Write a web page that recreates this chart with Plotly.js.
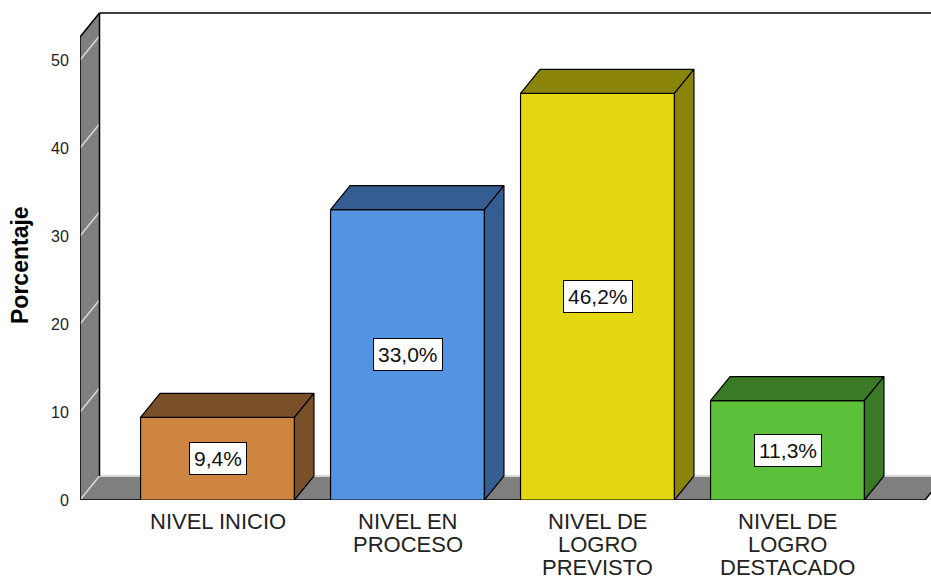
<!DOCTYPE html>
<html>
<head>
<meta charset="utf-8">
<script src="https://cdn.plot.ly/plotly-3.0.1.min.js"></script>
<style>html,body{margin:0;padding:0;background:#fff;}#chart{width:931px;height:580px;}</style>
</head>
<body>
<div id="chart"></div>
<script>
// ---- data ----
const categories = ['NIVEL INICIO', 'NIVEL EN<br>PROCESO', 'NIVEL DE<br>LOGRO<br>PREVISTO', 'NIVEL DE<br>LOGRO<br>DESTACADO'];
const percentages = [9.4, 33.0, 46.2, 11.3];
const frontColors = ['#CD853F', '#5294E2', '#E3D70F', '#5CC13A'];
const sideColors = ['#7A5028', '#345E92', '#8B840A', '#3A7A25'];
const yTicks = [0, 10, 20, 30, 40, 50];
const yTitle = 'Porcentaje';

// ---- geometry (3D look) ----
const pxPerX = 190, pxPerY = 8.8;
const ml = 80, mt = 10, mb = 80, W = 931, H = 580;
const plotW = W - ml, plotH = H - mt - mb;
const x0 = -(217.5 - ml) / pxPerX;         // left front edge
const xRange = [x0, x0 + plotW / pxPerX];
const yRange = [0, plotH / pxPerY];
const dx = 19.5 / pxPerX, dy = 24 / pxPerY;   // depth offsets
const xFloorEnd = 1.5 + (1.5 - x0);
const wallTop = (500 - 37) / pxPerY;
const backTop = wallTop + dy;
const barW = 0.81;

const traces = [];
const xs = categories.map((_, i) => i);
traces.push({
  type: 'bar', x: xs, y: percentages, width: barW,
  marker: {color: frontColors, line: {color: '#000', width: 1.2}},
  hoverinfo: 'none', showlegend: false
});
percentages.forEach((v, i) => {
  const l = i - barW / 2, r = i + barW / 2;
  traces.push({
    type: 'scatter', mode: 'lines', fill: 'toself', fillcolor: sideColors[i],
    line: {color: '#000', width: 1.2},
    x: [l, r, r + dx, l + dx, l], y: [v, v, v + dy, v + dy, v],
    hoverinfo: 'none', showlegend: false
  });
  traces.push({
    type: 'scatter', mode: 'lines', fill: 'toself', fillcolor: sideColors[i],
    line: {color: '#000', width: 1.2},
    x: [r, r + dx, r + dx, r, r], y: [0, dy, v + dy, v, 0],
    hoverinfo: 'none', showlegend: false
  });
});

const gray = '#7F7F7F', light = '#D8D8D8';
const shapes = [];
// wall
shapes.push({type: 'path', xref: 'x', yref: 'y', layer: 'below',
  path: `M${x0},0 L${x0},${wallTop} L${x0 + dx},${backTop} L${x0 + dx},${dy} Z`,
  fillcolor: gray, line: {width: 0}});
// floor
shapes.push({type: 'path', xref: 'x', yref: 'y', layer: 'below',
  path: `M${x0},0 L${xFloorEnd},0 L${xFloorEnd + dx},${dy} L${x0 + dx},${dy} Z`,
  fillcolor: gray, line: {width: 0}});
// wall grid lines
yTicks.forEach(t => {
  shapes.push({type: 'line', xref: 'x', yref: 'y', layer: 'below',
    x0: x0, y0: t, x1: x0 + dx, y1: t + dy, line: {color: light, width: 1.5}});
});
// floor back line
shapes.push({type: 'line', xref: 'x', yref: 'y', layer: 'below',
  x0: x0 + dx, y0: dy, x1: xRange[1] + 1, y1: dy, line: {color: light, width: 2}});
// outlines
const edge = {color: '#000', width: 1.5};
shapes.push({type: 'line', xref: 'x', yref: 'y', layer: 'below', x0: x0, y0: 0, x1: x0, y1: wallTop, line: edge});
shapes.push({type: 'line', xref: 'x', yref: 'y', layer: 'below', x0: x0, y0: wallTop, x1: x0 + dx, y1: backTop, line: edge});
shapes.push({type: 'line', xref: 'x', yref: 'y', layer: 'below', x0: x0 + dx, y0: dy, x1: x0 + dx, y1: backTop, line: edge});
shapes.push({type: 'line', xref: 'x', yref: 'y', layer: 'below', x0: x0 + dx, y0: backTop, x1: xRange[1] + 1, y1: backTop, line: edge});
shapes.push({type: 'line', xref: 'x', yref: 'y', layer: 'below', x0: x0, y0: 0, x1: xFloorEnd, y1: 0, line: edge});
shapes.push({type: 'line', xref: 'x', yref: 'y', layer: 'below', x0: xFloorEnd, y0: 0, x1: xFloorEnd + dx, y1: dy, line: edge});

const annotations = [];
const font = 'Liberation Sans, Arial, sans-serif';
percentages.forEach((v, i) => {
  annotations.push({
    x: i, y: v / 2, xref: 'x', yref: 'y', showarrow: false,
    text: v.toFixed(1).replace('.', ',') + '%',
    font: {family: font, size: 21, color: '#111'},
    bgcolor: '#fff', bordercolor: '#000', borderwidth: 1, borderpad: 4
  });
});
const lineGap = 23;
categories.forEach((c, i) => {
  c.split('<br>').forEach((ln, k) => {
    annotations.push({
      x: i, y: 0, xref: 'x', yref: 'y', showarrow: false,
      yanchor: 'middle', yshift: -21 - k * lineGap,
      text: ln, font: {family: font, size: 22, color: '#222'}
    });
  });
});
// y-axis title
annotations.push({
  x: (20 - ml) / plotW, y: (H - mb - 265) / plotH, xref: 'paper', yref: 'paper',
  showarrow: false, textangle: -90, xanchor: 'center', yanchor: 'middle',
  text: yTitle, font: {family: font, size: 23, color: '#000', weight: 'bold'}
});

const layout = {
  width: W, height: H,
  margin: {l: ml, r: 0, t: mt, b: mb, pad: 0},
  paper_bgcolor: '#fff', plot_bgcolor: '#fff',
  showlegend: false, hovermode: false,
  xaxis: {range: xRange, showgrid: false, zeroline: false, showline: false,
    showticklabels: false, ticks: '', fixedrange: true},
  yaxis: {range: yRange, tickvals: yTicks, ticktext: yTicks.map(String),
    showgrid: false, zeroline: false, showline: false,
    ticks: 'outside', ticklen: 7, tickcolor: 'rgba(0,0,0,0)',
    tickfont: {family: font, size: 16, color: '#222'}, fixedrange: true},
  shapes: shapes, annotations: annotations
};
Plotly.newPlot('chart', traces, layout, {displayModeBar: false, staticPlot: true});
</script>
</body>
</html>
